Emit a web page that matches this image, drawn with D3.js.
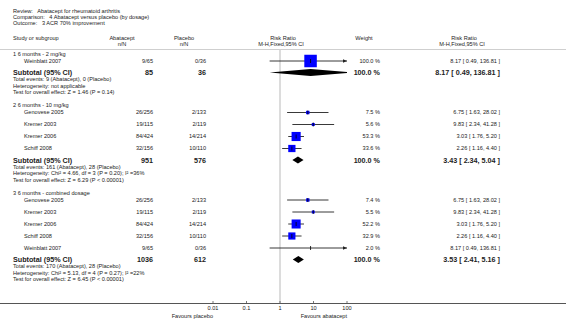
<!DOCTYPE html>
<html>
<head>
<meta charset="utf-8">
<script src="https://cdn.jsdelivr.net/npm/d3@7"></script>
<style>
body { margin: 0; background: #fff; }
svg text { font-family: "Liberation Sans", Arial, sans-serif; fill: #222; white-space: pre; }
</style>
</head>
<body>
<div id="forest"></div>
<script>
// ---- data ----
const titleLines = ["Review:   Abatacept for rheumatoid arthritis",
    "Comparison:   4 Abatacept versus placebo (by dosage)",
    "Outcome:   3 ACR 70% improvement"];

const groupNames = ["1 6 months - 2 mg/kg", "2 6 months - 10 mg/kg", "3 6 months - combined dosage"];

const studyGroup = [0, 1, 1, 1, 1, 2, 2, 2, 2, 2];
const studyNames = ["Weinblatt 2007", "Genovese 2005", "Kremer 2003", "Kremer 2006", "Schiff 2008",
    "Genovese 2005", "Kremer 2003", "Kremer 2006", "Schiff 2008", "Weinblatt 2007"];
const abataceptNN = ["9/65", "26/256", "19/115", "84/424", "32/156", "26/256", "19/115", "84/424", "32/156", "9/65"];
const placeboNN = ["0/36", "2/133", "2/119", "14/214", "10/110", "2/133", "2/119", "14/214", "10/110", "0/36"];
const weights = [100.0, 7.5, 5.6, 53.3, 33.6, 7.4, 5.5, 52.2, 32.9, 2.0];
const rr = [8.17, 6.75, 9.83, 3.03, 2.26, 6.75, 9.83, 3.03, 2.26, 8.17];
const rrLow = [0.49, 1.63, 2.34, 1.76, 1.16, 1.63, 2.34, 1.76, 1.16, 0.49];
const rrHigh = [136.81, 28.02, 41.28, 5.20, 4.40, 28.02, 41.28, 5.20, 4.40, 136.81];

const subAbatacept = [85, 951, 1036];
const subPlacebo = [36, 576, 612];
const subRR = [8.17, 3.43, 3.53];
const subLow = [0.49, 2.34, 2.41];
const subHigh = [136.81, 5.04, 5.16];
const subEvents = ["Total events: 9 (Abatacept), 0 (Placebo)",
    "Total events: 161 (Abatacept), 28 (Placebo)",
    "Total events: 170 (Abatacept), 28 (Placebo)"];
const subHet = ["Heterogeneity: not applicable",
    "Heterogeneity: Chi² = 4.66, df = 3 (P = 0.20); I² =36%",
    "Heterogeneity: Chi² = 5.13, df = 4 (P = 0.27); I² =22%"];
const subTest = ["Test for overall effect: Z = 1.46 (P = 0.14)",
    "Test for overall effect: Z = 6.29 (P < 0.00001)",
    "Test for overall effect: Z = 6.45 (P < 0.00001)"];

const axisTicks = [0.01, 0.1, 1, 10, 100];
const favours = ["Favours placebo", "Favours abatacept"];

// ---- layout ----
let W = 566, H = 333;
let fs = 5.6, fsBold = 7.2;
let col = {name: 13, study: 24, abat: 153, plac: 206, weight: 380, ci: 500};
let headerY = 49.5, axisY = 303.5;

let svg = d3.select("#forest").append("svg")
    .attr("width", W).attr("height", H);

let xScale = d3.scaleLog().domain([0.01, 100]).range([213, 347]);
let sizeScale = d3.scaleSqrt().domain([0, 100]).range([0, 12.5]);
let f2 = d3.format(".2f"), f1 = d3.format(".1f");
let ciText = (e, l, h) => f2(e) + " [ " + f2(l) + ", " + f2(h) + " ]";

// build the row list, vertical gaps depend on the row kind
let rows = [];
let gapBefore = {head: 13, study: 12, firstStudy: 7, sub: 11.5, info: 7, info2: 6.5};
let y = 54 - gapBefore.head;
groupNames.forEach((g, gi) => {
    y += gapBefore.head;
    rows.push({kind: "head", y: y, text: g});
    let first = true;
    studyNames.forEach((s, i) => {
        if (studyGroup[i] !== gi) return;
        y += first ? gapBefore.firstStudy : gapBefore.study;
        first = false;
        rows.push({kind: "study", y: y, i: i});
    });
    y += gapBefore.sub;
    rows.push({kind: "sub", y: y, g: gi});
    y += gapBefore.info;
    rows.push({kind: "info", y: y, text: subEvents[gi]});
    y += gapBefore.info2;
    rows.push({kind: "info", y: y, text: subHet[gi]});
    y += gapBefore.info2;
    rows.push({kind: "info", y: y, text: subTest[gi]});
});

function label(x, yy, t, anchor, bold) {
    return svg.append("text")
        .attr("x", x).attr("y", yy)
        .attr("dy", "0.35em")
        .attr("text-anchor", anchor || "start")
        .style("font-size", (bold ? fsBold : fs) + "px")
        .style("font-weight", bold ? "bold" : "normal")
        .text(t);
}

// title
titleLines.forEach((t, i) => label(col.name, 11.5 + i * 6, t));

// column headers
label(col.name, 38, "Study or subgroup");
label(122, 38, "Abatacept", "middle");
label(122, 44.5, "n/N", "middle");
label(184, 38, "Placebo", "middle");
label(184, 44.5, "n/N", "middle");
label(283, 38, "Risk Ratio", "middle");
label(281, 44.5, "M-H,Fixed,95% CI", "middle");
label(364, 38, "Weight", "middle");
label(464, 38, "Risk Ratio", "middle");
label(462, 44.5, "M-H,Fixed,95% CI", "middle");

svg.append("line")
    .attr("x1", 0).attr("x2", W)
    .attr("y1", headerY).attr("y2", headerY)
    .attr("stroke", "#cfcfcf").attr("stroke-width", 1);

// line of no effect
svg.append("line")
    .attr("x1", xScale(1)).attr("x2", xScale(1))
    .attr("y1", headerY).attr("y2", axisY)
    .attr("stroke", "#d4d4d4").attr("stroke-width", 1.6);

svg.append("clipPath").attr("id", "plotclip")
    .append("rect")
    .attr("x", xScale(0.01)).attr("y", 0)
    .attr("width", xScale(100) - xScale(0.01)).attr("height", H);

let plot = svg.append("g").attr("clip-path", "url(#plotclip)");
let [lo, hi] = xScale.domain();

rows.forEach(r => {
    if (r.kind === "head" || r.kind === "info") {
        label(col.name, r.y, r.text);
    } else if (r.kind === "study") {
        let i = r.i;
        label(col.study, r.y, studyNames[i]);
        label(col.abat, r.y, abataceptNN[i], "end");
        label(col.plac, r.y, placeboNN[i], "end");
        label(col.weight, r.y, f1(weights[i]) + " %", "end");
        label(col.ci, r.y, ciText(rr[i], rrLow[i], rrHigh[i]), "end");

        let x1 = xScale(Math.max(rrLow[i], lo)), x2 = xScale(Math.min(rrHigh[i], hi));
        plot.append("line")
            .attr("x1", x1).attr("x2", x2)
            .attr("y1", r.y).attr("y2", r.y)
            .attr("stroke", "#222").attr("stroke-width", 0.9);
        if (rrHigh[i] > hi) {
            svg.append("path")
                .attr("d", "M" + (x2 - 4) + "," + (r.y - 1.8) + "L" + x2 + "," + r.y + "L" + (x2 - 4) + "," + (r.y + 1.8) + "Z")
                .attr("fill", "#222");
        }
        // squares under ~3 px are hidden behind the estimate tick
        let s = sizeScale(weights[i]);
        if (s > 2.5) {
            plot.append("rect")
                .attr("x", xScale(rr[i]) - s / 2).attr("y", r.y - s / 2)
                .attr("width", s).attr("height", s)
                .attr("fill", "#0000ff");
        }
        plot.append("line")
            .attr("x1", xScale(rr[i])).attr("x2", xScale(rr[i]))
            .attr("y1", r.y - 2).attr("y2", r.y + 2)
            .attr("stroke", "#000").attr("stroke-width", 0.8);
    } else if (r.kind === "sub") {
        let g = r.g;
        label(col.name, r.y, "Subtotal (95% CI)", "start", true);
        label(col.abat, r.y, subAbatacept[g], "end", true);
        label(col.plac, r.y, subPlacebo[g], "end", true);
        label(col.weight, r.y, "100.0 %", "end", true);
        label(col.ci, r.y, ciText(subRR[g], subLow[g], subHigh[g]), "end", true);
        let h = 3.4;
        plot.append("path")
            .attr("d", "M" + xScale(subLow[g]) + "," + r.y +
                "L" + xScale(subRR[g]) + "," + (r.y - h) +
                "L" + xScale(subHigh[g]) + "," + r.y +
                "L" + xScale(subRR[g]) + "," + (r.y + h) + "Z")
            .attr("fill", "#000");
    }
});

// bottom axis
svg.append("line")
    .attr("x1", 0).attr("x2", W)
    .attr("y1", axisY).attr("y2", axisY)
    .attr("stroke", "#555").attr("stroke-width", 1);

let ax = svg.append("g");
axisTicks.forEach(t => {
    ax.append("line")
        .attr("x1", xScale(t)).attr("x2", xScale(t))
        .attr("y1", axisY - 2.5).attr("y2", axisY)
        .attr("stroke", "#555").attr("stroke-width", 0.8);
    label(xScale(t), axisY + 5, String(t), "middle");
});

label(xScale(0.01), axisY + 13, favours[0], "end");
label(xScale(100), axisY + 13, favours[1], "end");
</script>
</body>
</html>
